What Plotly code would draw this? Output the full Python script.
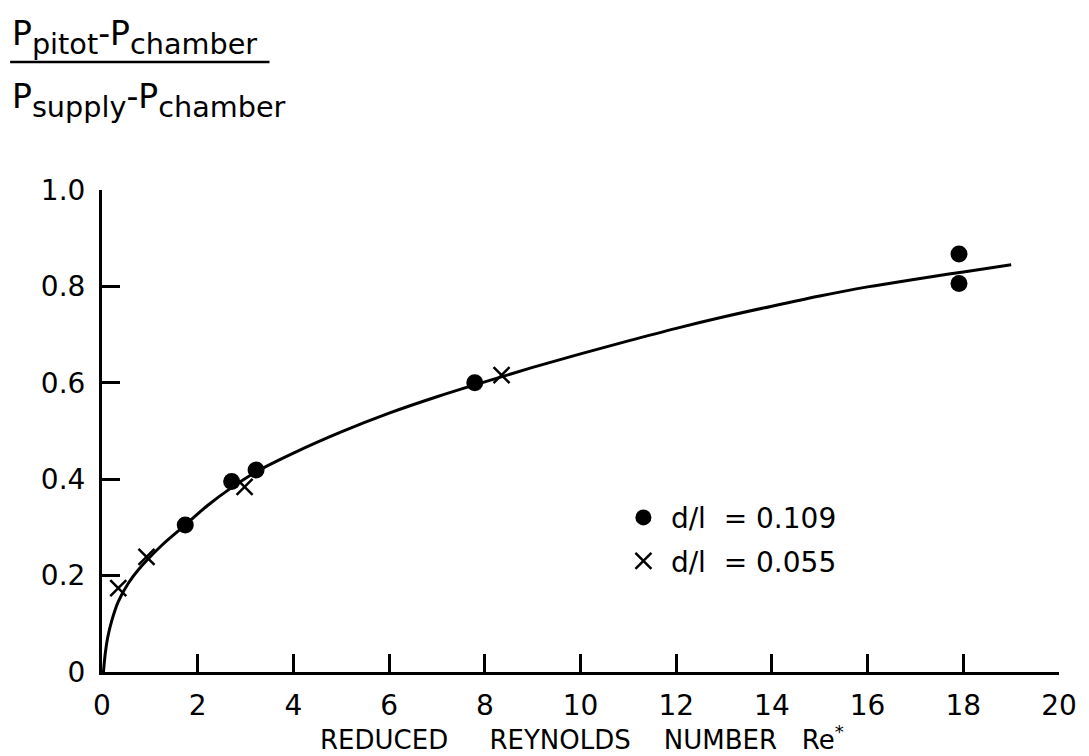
import plotly.graph_objects as go

# ---- data ----
curve_x = [0.03, 0.07, 0.12, 0.2, 0.34, 0.55, 0.76, 1.24, 1.74, 2.2, 2.7, 3.2, 4.0,
           5.0, 6.0, 7.0, 8.0, 9.0, 10.0, 11.0, 12.0, 13.0, 14.0, 15.0, 16.0,
           17.0, 18.0, 19.0]
curve_y = [0.0, 0.04, 0.072, 0.105, 0.146, 0.184, 0.212, 0.262, 0.305, 0.345, 0.382,
           0.414, 0.454, 0.498, 0.537, 0.571, 0.602, 0.632, 0.660, 0.687, 0.713,
           0.737, 0.759, 0.780, 0.799, 0.815, 0.830, 0.845]

circ_x = [1.74, 2.71, 3.22, 7.79, 17.91, 17.91]
circ_y = [0.305, 0.395, 0.419, 0.600, 0.867, 0.806]

cross_x = [0.34, 0.93, 2.98, 8.35]
cross_y = [0.174, 0.239, 0.384, 0.616]

x_ticks = [0, 2, 4, 6, 8, 10, 12, 14, 16, 18, 20]
x_labels = ["0", "2", "4", "6", "8", "10", "12", "14", "16", "18", "20"]
y_ticks = [0, 0.2, 0.4, 0.6, 0.8, 1.0]
y_labels = ["0", "0.2", "0.4", "0.6", "0.8", "1.0"]

FONT = "DejaVu Sans"
BLACK = "#000000"

fig = go.Figure()
fig.add_trace(go.Scatter(x=curve_x, y=curve_y, mode="lines",
                         line=dict(color=BLACK, width=3, shape="spline", smoothing=1.0),
                         showlegend=False, cliponaxis=False))
fig.add_trace(go.Scatter(x=circ_x, y=circ_y, mode="markers",
                         marker=dict(symbol="circle", size=17, color=BLACK),
                         name="d/l\u00a0\u00a0= 0.109", legendgroup="a", cliponaxis=False))
fig.add_trace(go.Scatter(x=cross_x, y=cross_y, mode="markers",
                         marker=dict(symbol="x-thin-open", size=16, color=BLACK,
                                     line=dict(color=BLACK, width=2.5)),
                         name="d/l\u00a0\u00a0= 0.055", legendgroup="b", cliponaxis=False))

# the page body adds an 8px offset, so the figure is 8px smaller and margins 8px less
fig.update_layout(
    width=1081, height=748,
    margin=dict(l=94, r=27, t=182, b=84),
    paper_bgcolor="white", plot_bgcolor="white",
    font=dict(family=FONT, size=28, color=BLACK),
    showlegend=True,
    legend=dict(x=0.537, y=0.372, xanchor="left", yanchor="top",
                font=dict(family=FONT, size=28, color=BLACK),
                bgcolor="rgba(0,0,0,0)", itemwidth=45, tracegroupgap=4),
    xaxis=dict(range=[0, 20], tickvals=x_ticks, ticktext=x_labels,
               showline=True, linecolor=BLACK, linewidth=3,
               ticks="inside", ticklen=18, tickwidth=2.5, tickcolor=BLACK,
               showgrid=False, zeroline=False, ticklabelstandoff=6,
               tickfont=dict(family=FONT, size=28, color=BLACK)),
    yaxis=dict(range=[0, 1.0], tickvals=y_ticks, ticktext=y_labels,
               showline=True, linecolor=BLACK, linewidth=3,
               ticks="inside", ticklen=18, tickwidth=2.5, tickcolor=BLACK,
               showgrid=False, zeroline=False, ticklabelstandoff=8,
               tickfont=dict(family=FONT, size=28, color=BLACK)),
)

# x-axis title
fig.add_annotation(
    text="REDUCED\u00a0\u00a0\u00a0\u00a0\u00a0REYNOLDS\u00a0\u00a0\u00a0\u00a0NUMBER\u00a0\u00a0\u00a0Re<sup>*</sup>",
    xref="paper", yref="paper", x=0.502, y=-0.137, xanchor="center", yanchor="middle",
    showarrow=False, font=dict(family=FONT, size=26, color=BLACK))

# y-axis title as a fraction
fig.add_annotation(
    text="<span style='font-size:33px'>P</span><sub>pitot</sub>"
         "<span style='font-size:33px'>-P</span><sub>chamber</sub>",
    xref="paper", yref="paper", x=-0.096, y=1.317, xanchor="left", yanchor="middle",
    showarrow=False, font=dict(family=FONT, size=41, color=BLACK))
fig.add_annotation(
    text="<span style='font-size:33px'>P</span><sub>supply</sub>"
         "<span style='font-size:33px'>-P</span><sub>chamber</sub>",
    xref="paper", yref="paper", x=-0.096, y=1.185, xanchor="left", yanchor="middle",
    showarrow=False, font=dict(family=FONT, size=41, color=BLACK))
fig.add_shape(type="line", xref="paper", yref="paper",
              x0=-0.096, x1=0.175, y0=1.2656, y1=1.2656,
              line=dict(color=BLACK, width=2.5))

fig.write_html("out.html")
